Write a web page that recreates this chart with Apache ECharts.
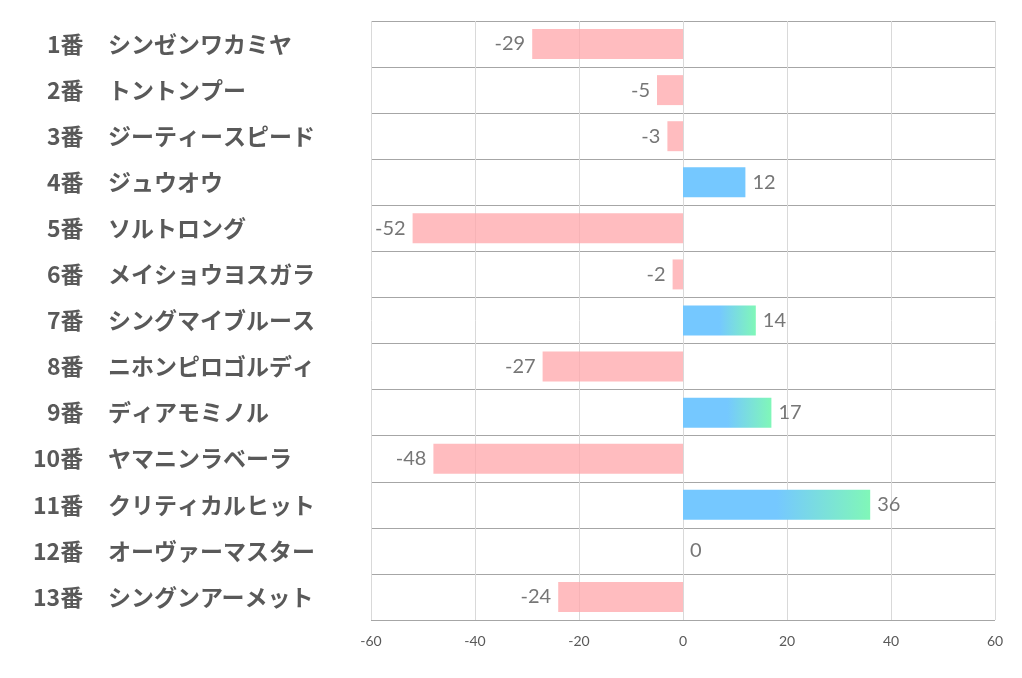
<!DOCTYPE html>
<html>
<head>
<meta charset="utf-8">
<script src="https://cdn.jsdelivr.net/npm/echarts@6/dist/echarts.min.js"></script>
<style>
html,body{margin:0;padding:0;background:#fff;}
#c{width:1022px;height:678px;}
</style>
</head>
<body>
<div id="c"></div>
<script>
const horseNums = ['1番','2番','3番','4番','5番','6番','7番','8番','9番','10番','11番','12番','13番'];
const horseNames = ['シンゼンワカミヤ','トントンプー','ジーティースピード','ジュウオウ','ソルトロング','メイショウヨスガラ','シングマイブルース','ニホンピロゴルディ','ディアモミノル','ヤマニンラベーラ','クリティカルヒット','オーヴァーマスター','シングンアーメット'];
const values = [-29, -5, -3, 12, -52, -2, 14, -27, 17, -48, 36, 0, -24];
const xTicks = [-60, -40, -20, 0, 20, 40, 60];

const pink = 'rgba(255,166,170,0.75)';
const blue = '#75C8FF';
const green = '#80F7B8';

const data = values.map(v => {
  let color;
  if (v < 0) color = pink;
  else if (v > 12) color = {type:'linear', x:0, y:0, x2:1, y2:0, colorStops:[{offset:0, color:blue},{offset:0.5, color:blue},{offset:1, color:green}]};
  else color = blue;
  return {value: v, itemStyle: {color: color}, label: {position: v < 0 ? 'left' : 'right'}};
});

const labelFont = {fontSize: 23, fontWeight: 'bold', color: '#595959', fontFamily: 'Noto Sans CJK JP'};

const chart = echarts.init(document.getElementById('c'), null, {renderer:'canvas'});
chart.setOption({
  animation: false,
  backgroundColor: '#fff',
  grid: {left: 371, right: 27, top: 21, bottom: 58, containLabel: false},
  xAxis: {
    type: 'value', min: xTicks[0], max: xTicks[xTicks.length-1], interval: 20,
    axisLine: {show: false}, axisTick: {show: false},
    splitLine: {show: true, lineStyle: {color: '#d9d9d9', width: 1}},
    axisLabel: {color: '#595959', fontSize: 14, fontFamily: 'Lato', margin: 14}
  },
  yAxis: {
    type: 'category', inverse: true,
    data: horseNums.map((n, i) => n + '　' + horseNames[i]),
    axisLine: {show: false}, axisTick: {show: false},
    splitLine: {show: true, lineStyle: {color: '#a6a6a6', width: 1}},
    axisLabel: {
      align: 'left', margin: 338,
      formatter: (v, i) => {
        const n = horseNums[i];
        const style = n.length > 2 ? 'n2' : 'n1';
        return '{' + style + '|' + n + '}{t|' + horseNames[i] + '}';
      },
      rich: {
        n2: Object.assign({width: 50, align: 'left'}, labelFont),
        n1: Object.assign({width: 36, align: 'left', padding: [0, 0, 0, 14]}, labelFont),
        t: Object.assign({padding: [0, 0, 0, 25]}, labelFont)
      }
    }
  },
  series: [{
    type: 'bar', data: data, barWidth: '65%',
    label: {show: true, distance: 7, color: '#767676', fontSize: 20, fontFamily: 'Lato'}
  }]
});
</script>
</body>
</html>
